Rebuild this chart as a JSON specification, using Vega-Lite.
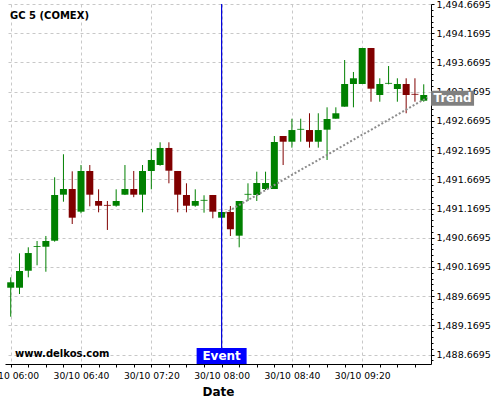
{
  "$schema": "https://vega.github.io/schema/vega-lite/v6.json",
  "width": 426,
  "height": 360,
  "autosize": {"type": "none"},
  "padding": {"left": 5, "top": 4, "right": 69, "bottom": 36},
  "background": "white",
  "config": {"font": "DejaVu Sans", "view": {"stroke": null}},
  "datasets": {
    "candles": [
      {"t": "2019-10-30T06:00", "o": 1489.813, "h": 1489.991, "l": 1489.317, "c": 1489.906},
      {"t": "2019-10-30T06:05", "o": 1489.813, "h": 1490.402, "l": 1489.705, "c": 1490.099},
      {"t": "2019-10-30T06:10", "o": 1490.104, "h": 1490.505, "l": 1489.991, "c": 1490.407},
      {"t": "2019-10-30T06:15", "o": 1490.513, "h": 1490.613, "l": 1490.197, "c": 1490.527},
      {"t": "2019-10-30T06:20", "o": 1490.515, "h": 1490.699, "l": 1490.087, "c": 1490.613},
      {"t": "2019-10-30T06:25", "o": 1490.618, "h": 1491.704, "l": 1490.601, "c": 1491.401},
      {"t": "2019-10-30T06:30", "o": 1491.406, "h": 1492.098, "l": 1491.286, "c": 1491.503},
      {"t": "2019-10-30T06:35", "o": 1491.503, "h": 1491.806, "l": 1490.904, "c": 1491.012},
      {"t": "2019-10-30T06:40", "o": 1491.115, "h": 1491.914, "l": 1491.087, "c": 1491.812},
      {"t": "2019-10-30T06:45", "o": 1491.812, "h": 1491.914, "l": 1491.207, "c": 1491.406},
      {"t": "2019-10-30T06:50", "o": 1491.298, "h": 1491.498, "l": 1491.104, "c": 1491.217},
      {"t": "2019-10-30T06:55", "o": 1491.231, "h": 1491.298, "l": 1490.802, "c": 1491.217},
      {"t": "2019-10-30T07:00", "o": 1491.217, "h": 1491.498, "l": 1491.200, "c": 1491.298},
      {"t": "2019-10-30T07:05", "o": 1491.406, "h": 1491.914, "l": 1491.400, "c": 1491.503},
      {"t": "2019-10-30T07:10", "o": 1491.503, "h": 1491.812, "l": 1491.363, "c": 1491.406},
      {"t": "2019-10-30T07:15", "o": 1491.406, "h": 1491.914, "l": 1491.104, "c": 1491.812},
      {"t": "2019-10-30T07:20", "o": 1491.812, "h": 1492.188, "l": 1491.498, "c": 1492.000},
      {"t": "2019-10-30T07:25", "o": 1491.914, "h": 1492.303, "l": 1491.902, "c": 1492.206},
      {"t": "2019-10-30T07:30", "o": 1492.206, "h": 1492.303, "l": 1491.601, "c": 1491.817},
      {"t": "2019-10-30T07:35", "o": 1491.812, "h": 1491.812, "l": 1491.104, "c": 1491.406},
      {"t": "2019-10-30T07:40", "o": 1491.401, "h": 1491.601, "l": 1491.104, "c": 1491.217},
      {"t": "2019-10-30T07:45", "o": 1491.217, "h": 1491.498, "l": 1491.200, "c": 1491.298},
      {"t": "2019-10-30T07:50", "o": 1491.303, "h": 1491.396, "l": 1491.098, "c": 1491.317},
      {"t": "2019-10-30T07:55", "o": 1491.401, "h": 1491.401, "l": 1491.002, "c": 1491.115},
      {"t": "2019-10-30T08:00", "o": 1491.012, "h": 1491.110, "l": 1491.012, "c": 1491.110},
      {"t": "2019-10-30T08:05", "o": 1491.110, "h": 1491.212, "l": 1490.699, "c": 1490.814},
      {"t": "2019-10-30T08:10", "o": 1490.704, "h": 1491.298, "l": 1490.505, "c": 1491.298},
      {"t": "2019-10-30T08:15", "o": 1491.406, "h": 1491.601, "l": 1491.298, "c": 1491.420},
      {"t": "2019-10-30T08:20", "o": 1491.401, "h": 1491.800, "l": 1491.298, "c": 1491.606},
      {"t": "2019-10-30T08:25", "o": 1491.503, "h": 1491.800, "l": 1491.486, "c": 1491.606},
      {"t": "2019-10-30T08:30", "o": 1491.503, "h": 1492.411, "l": 1491.503, "c": 1492.308},
      {"t": "2019-10-30T08:35", "o": 1492.411, "h": 1492.411, "l": 1491.914, "c": 1492.313},
      {"t": "2019-10-30T08:40", "o": 1492.313, "h": 1492.707, "l": 1492.211, "c": 1492.513},
      {"t": "2019-10-30T08:45", "o": 1492.519, "h": 1492.707, "l": 1492.313, "c": 1492.533},
      {"t": "2019-10-30T08:50", "o": 1492.513, "h": 1492.800, "l": 1492.211, "c": 1492.313},
      {"t": "2019-10-30T08:55", "o": 1492.313, "h": 1492.800, "l": 1492.211, "c": 1492.513},
      {"t": "2019-10-30T09:00", "o": 1492.519, "h": 1492.902, "l": 1492.000, "c": 1492.702},
      {"t": "2019-10-30T09:05", "o": 1492.707, "h": 1492.902, "l": 1492.707, "c": 1492.800},
      {"t": "2019-10-30T09:10", "o": 1492.913, "h": 1493.712, "l": 1492.913, "c": 1493.301},
      {"t": "2019-10-30T09:15", "o": 1493.301, "h": 1493.507, "l": 1492.902, "c": 1493.399},
      {"t": "2019-10-30T09:20", "o": 1493.301, "h": 1493.918, "l": 1493.301, "c": 1493.918},
      {"t": "2019-10-30T09:25", "o": 1493.918, "h": 1493.918, "l": 1492.998, "c": 1493.221},
      {"t": "2019-10-30T09:30", "o": 1493.113, "h": 1493.399, "l": 1492.998, "c": 1493.301},
      {"t": "2019-10-30T09:35", "o": 1493.306, "h": 1493.609, "l": 1493.296, "c": 1493.320},
      {"t": "2019-10-30T09:40", "o": 1493.216, "h": 1493.399, "l": 1492.998, "c": 1493.301},
      {"t": "2019-10-30T09:45", "o": 1493.301, "h": 1493.399, "l": 1492.800, "c": 1493.113},
      {"t": "2019-10-30T09:50", "o": 1493.132, "h": 1493.399, "l": 1492.998, "c": 1493.118},
      {"t": "2019-10-30T09:55", "o": 1493.015, "h": 1493.296, "l": 1492.998, "c": 1493.113}
    ],
    "trend": [
      {"t": "2019-10-30T08:02", "v": 1491.09},
      {"t": "2019-10-30T09:57", "v": 1493.068}
    ]
  },
  "layer": [
    {
      "data": {"name": "candles"},
      "mark": {"type": "rule", "strokeWidth": 1},
      "encoding": {
        "x": {
          "field": "t", "type": "temporal", "title": "Date",
          "scale": {
            "domain": [
              {"year": 2019, "month": 10, "date": 30, "hours": 5, "minutes": 56, "seconds": 45},
              {"year": 2019, "month": 10, "date": 30, "hours": 9, "minutes": 59, "seconds": 8}
            ],
            "nice": false,
            "padding": 0
          },
          "axis": {
            "title": "Date",
            "titleFont": "DejaVu Sans", "titleFontSize": 12, "titleFontWeight": "bold", "titleColor": "black", "titlePadding": 6,
            "tickCount": 200,
            "values": [
              {"year": 2019, "month": 10, "date": 30, "hours": 6, "minutes": 0},
              {"year": 2019, "month": 10, "date": 30, "hours": 6, "minutes": 10},
              {"year": 2019, "month": 10, "date": 30, "hours": 6, "minutes": 20},
              {"year": 2019, "month": 10, "date": 30, "hours": 6, "minutes": 30},
              {"year": 2019, "month": 10, "date": 30, "hours": 6, "minutes": 40},
              {"year": 2019, "month": 10, "date": 30, "hours": 6, "minutes": 50},
              {"year": 2019, "month": 10, "date": 30, "hours": 7, "minutes": 0},
              {"year": 2019, "month": 10, "date": 30, "hours": 7, "minutes": 10},
              {"year": 2019, "month": 10, "date": 30, "hours": 7, "minutes": 20},
              {"year": 2019, "month": 10, "date": 30, "hours": 7, "minutes": 30},
              {"year": 2019, "month": 10, "date": 30, "hours": 7, "minutes": 40},
              {"year": 2019, "month": 10, "date": 30, "hours": 7, "minutes": 50},
              {"year": 2019, "month": 10, "date": 30, "hours": 8, "minutes": 0},
              {"year": 2019, "month": 10, "date": 30, "hours": 8, "minutes": 10},
              {"year": 2019, "month": 10, "date": 30, "hours": 8, "minutes": 20},
              {"year": 2019, "month": 10, "date": 30, "hours": 8, "minutes": 30},
              {"year": 2019, "month": 10, "date": 30, "hours": 8, "minutes": 40},
              {"year": 2019, "month": 10, "date": 30, "hours": 8, "minutes": 50},
              {"year": 2019, "month": 10, "date": 30, "hours": 9, "minutes": 0},
              {"year": 2019, "month": 10, "date": 30, "hours": 9, "minutes": 10},
              {"year": 2019, "month": 10, "date": 30, "hours": 9, "minutes": 20},
              {"year": 2019, "month": 10, "date": 30, "hours": 9, "minutes": 30},
              {"year": 2019, "month": 10, "date": 30, "hours": 9, "minutes": 40},
              {"year": 2019, "month": 10, "date": 30, "hours": 9, "minutes": 50}
            ],
            "labelExpr": "(hours(datum.value)*60 + minutes(datum.value)) % 40 == 0 ? timeFormat(datum.value, '%d/%m %H:%M') : ''",
            "labelFontSize": 9.2, "labelColor": "black", "labelFlush": false, "labelOverlap": false, "labelPadding": 4,
            "tickSize": 3, "tickColor": "black", "domainColor": "black", "domainWidth": 1,
            "grid": true, "gridColor": "#c8c8c8", "gridDash": [3, 3],
            "gridOpacity": {"condition": {"test": "(hours(datum.value)*60 + minutes(datum.value)) % 40 == 0", "value": 1}, "value": 0}
          }
        },
        "y": {
          "field": "l", "type": "quantitative", "title": null,
          "scale": {"domain": [1488.507, 1494.671], "nice": false, "zero": false, "padding": 0},
          "axis": {
            "orient": "right", "title": null,
            "tickCount": 200,
            "values": [1488.5695, 1488.6695, 1488.7695, 1488.8695, 1488.9695, 1489.0695, 1489.1695, 1489.2695, 1489.3695, 1489.4695, 1489.5695, 1489.6695, 1489.7695, 1489.8695, 1489.9695, 1490.0695, 1490.1695, 1490.2695, 1490.3695, 1490.4695, 1490.5695, 1490.6695, 1490.7695, 1490.8695, 1490.9695, 1491.0695, 1491.1695, 1491.2695, 1491.3695, 1491.4695, 1491.5695, 1491.6695, 1491.7695, 1491.8695, 1491.9695, 1492.0695, 1492.1695, 1492.2695, 1492.3695, 1492.4695, 1492.5695, 1492.6695, 1492.7695, 1492.8695, 1492.9695, 1493.0695, 1493.1695, 1493.2695, 1493.3695, 1493.4695, 1493.5695, 1493.6695, 1493.7695, 1493.8695, 1493.9695, 1494.0695, 1494.1695, 1494.2695, 1494.3695, 1494.4695, 1494.5695, 1494.6695],
            "labelExpr": "round(datum.value*10000 - 14886695) % 5000 == 0 ? format(datum.value, ',.4f') : ''",
            "labelFontSize": 9.5, "labelColor": "black", "labelOverlap": false, "labelFlush": false, "labelPadding": 2,
            "tickSize": {"condition": {"test": "round(datum.value*10000 - 14886695) % 5000 == 0", "value": 3}, "value": 2},
            "tickColor": "black", "domainColor": "black", "domainWidth": 1,
            "grid": true, "gridColor": "#c8c8c8", "gridDash": [3, 3],
            "gridOpacity": {"condition": {"test": "round(datum.value*10000 - 14886695) % 5000 == 0", "value": 1}, "value": 0}
          }
        },
        "y2": {"field": "h"},
        "color": {"condition": {"test": "datum.c >= datum.o", "value": "#008000"}, "value": "#800000"}
      }
    },
    {
      "data": {"name": "candles"},
      "mark": {"type": "bar", "width": 7},
      "encoding": {
        "x": {"field": "t", "type": "temporal", "title": "Date"},
        "y": {"field": "o", "type": "quantitative", "title": null},
        "y2": {"field": "c"},
        "color": {"condition": {"test": "datum.c >= datum.o", "value": "#008000"}, "value": "#800000"}
      }
    },
    {
      "data": {"name": "trend"},
      "mark": {"type": "line", "color": "#8c8c8c", "strokeWidth": 2, "strokeDash": [2, 2]},
      "encoding": {
        "x": {"field": "t", "type": "temporal", "title": "Date"},
        "y": {"field": "v", "type": "quantitative", "title": null}
      }
    },
    {
      "data": {"values": [{}]},
      "mark": {"type": "rule", "color": "#0000dd", "strokeWidth": 1.2},
      "encoding": {
        "x": {"datum": {"year": 2019, "month": 10, "date": 30, "hours": 8, "minutes": 0}, "type": "temporal"}
      }
    },
    {
      "data": {"values": [{}]},
      "mark": {"type": "rect", "color": "#0000ff", "width": 50, "height": 16},
      "encoding": {
        "x": {"datum": {"year": 2019, "month": 10, "date": 30, "hours": 8, "minutes": 0}, "type": "temporal"},
        "y": {"datum": 1488.644, "type": "quantitative"}
      }
    },
    {
      "data": {"values": [{}]},
      "mark": {"type": "text", "text": "Event", "color": "white", "font": "DejaVu Sans", "fontSize": 12, "fontWeight": "bold", "align": "center", "baseline": "middle"},
      "encoding": {
        "x": {"datum": {"year": 2019, "month": 10, "date": 30, "hours": 8, "minutes": 0}, "type": "temporal"},
        "y": {"datum": 1488.644, "type": "quantitative"}
      }
    },
    {
      "data": {"values": [{}]},
      "mark": {"type": "rect", "color": "#808080", "width": 43, "height": 15},
      "encoding": {
        "x": {"datum": {"year": 2019, "month": 10, "date": 30, "hours": 10, "minutes": 11, "seconds": 24}, "type": "temporal"},
        "y": {"datum": 1493.057, "type": "quantitative"}
      }
    },
    {
      "data": {"values": [{}]},
      "mark": {"type": "text", "text": "Trend", "color": "white", "font": "DejaVu Sans", "fontSize": 12, "fontWeight": "bold", "align": "center", "baseline": "middle"},
      "encoding": {
        "x": {"datum": {"year": 2019, "month": 10, "date": 30, "hours": 10, "minutes": 11, "seconds": 24}, "type": "temporal"},
        "y": {"datum": 1493.057, "type": "quantitative"}
      }
    },
    {
      "data": {"values": [{}]},
      "mark": {"type": "text", "text": "GC 5 (COMEX)", "color": "black", "font": "DejaVu Sans", "fontSize": 10, "fontWeight": "bold", "align": "left", "baseline": "alphabetic"},
      "encoding": {
        "x": {"datum": {"year": 2019, "month": 10, "date": 30, "hours": 5, "minutes": 59, "seconds": 36}, "type": "temporal"},
        "y": {"datum": 1494.414, "type": "quantitative"}
      }
    },
    {
      "data": {"values": [{}]},
      "mark": {"type": "text", "text": "www.delkos.com", "color": "black", "font": "DejaVu Sans", "fontSize": 10, "fontWeight": "bold", "align": "left", "baseline": "alphabetic"},
      "encoding": {
        "x": {"datum": {"year": 2019, "month": 10, "date": 30, "hours": 6, "minutes": 2, "seconds": 27}, "type": "temporal"},
        "y": {"datum": 1488.6215, "type": "quantitative"}
      }
    }
  ]
}
